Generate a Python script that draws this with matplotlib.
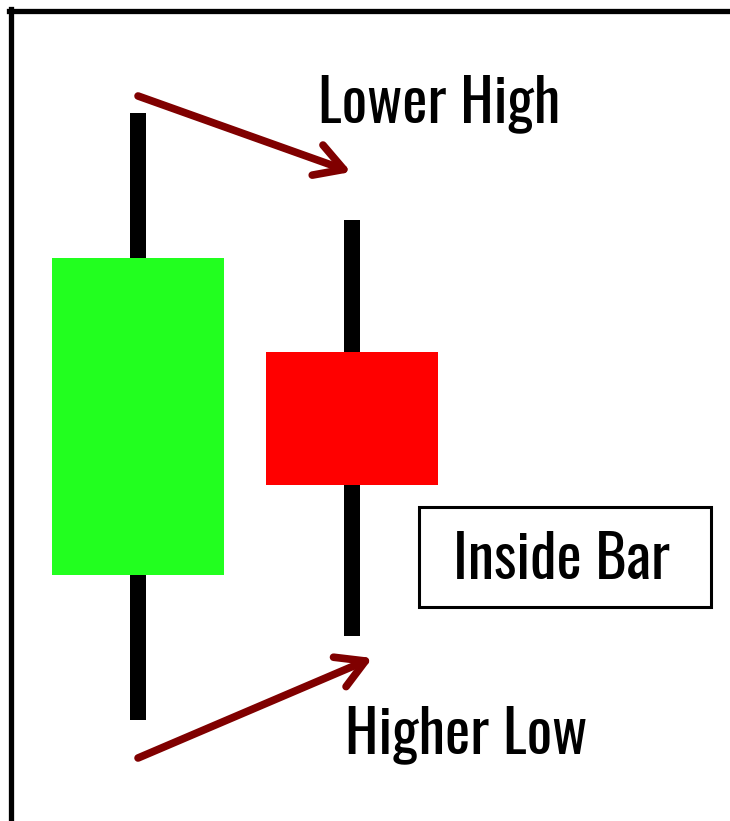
import matplotlib
matplotlib.use("Agg")
import matplotlib.pyplot as plt
from matplotlib.lines import Line2D

# candle data (arbitrary price units)
candles = ["prev", "inside"]
opens = [24.6, 46.9]
highs = [70.8, 60.1]
lows = [10.1, 18.5]
closes = [56.3, 33.6]
colors = ["#22ff1f", "#ff0000"]

labels = ["Lower High", "Higher Low", "Inside Bar"]

fig = plt.figure(figsize=(7.3, 8.21), dpi=100)
ax = fig.add_axes([0, 0, 1, 1])
ax.set_xlim(-0.645, 2.766)
ax.set_ylim(0, 82.1)
ax.axis("off")

x = list(range(len(candles)))
for i in x:
    ax.bar(i, highs[i] - lows[i], bottom=lows[i], width=0.072, color="black", zorder=1)
    lo = min(opens[i], closes[i])
    ax.bar(i, abs(closes[i] - opens[i]), bottom=lo, width=0.8, color=colors[i], zorder=2)

# frame (left + top only, picture is cropped)
fig.add_artist(Line2D([0.0145, 0.0145], [0, 0.9885], color="black", lw=3.8))
fig.add_artist(Line2D([0.0122, 1], [0.9866, 0.9866], color="black", lw=3.8))

arrow = dict(arrowstyle="->,head_length=2.0,head_width=1.15", color="#800000", lw=5.5,
             shrinkA=0, shrinkB=0, capstyle="round")
ax.annotate("", xy=(x[1] - 0.005, highs[1] + 4.8), xytext=(x[0], highs[0] + 1.7),
            arrowprops=arrow)
ax.annotate("", xy=(x[1] + 0.095, lows[1] - 2.2), xytext=(x[0], lows[0] - 3.8),
            arrowprops=arrow)

fnt = dict(family=["Oswald", "DejaVu Sans"], fontsize=43, color="black", ha="left", va="baseline")
ax.text(0.841, 69.9, labels[0], **fnt)
ax.text(0.967, 6.8, labels[1], **fnt)
box = plt.Rectangle((1.3117, 21.4), 1.3645, 10.0, fc="white", ec="black", lw=2.2)
ax.add_patch(box)
ax.text(1.472, 24.2, labels[2], **fnt)

fig.savefig("out.png", dpi=100)
